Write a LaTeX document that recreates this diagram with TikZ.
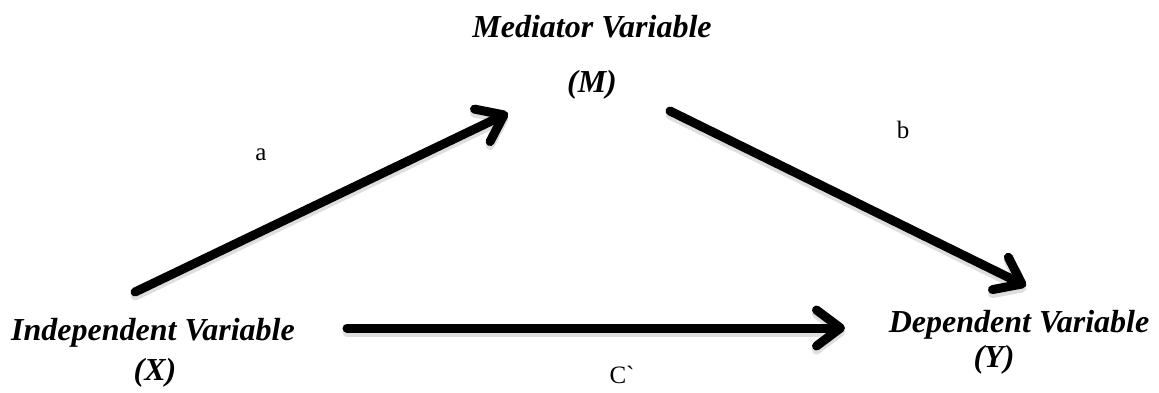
\documentclass[tikz,border=0pt]{standalone}
\usepackage{fontspec}
\setmainfont{Liberation Serif}
\usetikzlibrary{arrows.meta}
\begin{document}
\begin{tikzpicture}[x=1pt,y=-1pt,
  varlabel/.style={font=\fontsize{32}{36}\selectfont\bfseries\itshape, inner sep=0pt, anchor=base},
  pathlabel/.style={font=\fontsize{25}{30}\selectfont, inner sep=0pt, anchor=base},
  bighead/.style={-{Straight Barb[length=24pt,width=36pt,line cap=round,line join=round]}},
  bigarrow/.style={line width=9pt, line cap=round, bighead,
    preaction={draw=black!13, line width=9pt, line cap=round, bighead, transform canvas={yshift=-4pt}}}]
\useasboundingbox (0,0) rectangle (1159,392);
% variable labels
\node[varlabel] (med) at (592,37) {Mediator Variable};
\node[varlabel] (medm) at (592,92) {(M)};
\node[varlabel] (ind) at (153,340) {Independent Variable};
\node[varlabel] (indx) at (155,380) {(X)};
\node[varlabel] (dep) at (1019,332) {Dependent Variable};
\node[varlabel] (depy) at (994,367) {(Y)};
% path labels
\node[pathlabel] (la) at (261,160) {a};
\node[pathlabel] (lb) at (903,138) {b};
\node[pathlabel] (lc) at (622,383) {C\textasciigrave};
% arrow end points
\coordinate (aS) at (135,292);
\coordinate (aE) at (508,113);
\coordinate (bS) at (670,111);
\coordinate (bE) at (1026,286);
\coordinate (cS) at (347,328);
\coordinate (cE) at (845,328);
\draw[bigarrow] (aS) -- (aE);
\draw[bigarrow] (bS) -- (bE);
\draw[bigarrow] (cS) -- (cE);
\end{tikzpicture}
\end{document}
